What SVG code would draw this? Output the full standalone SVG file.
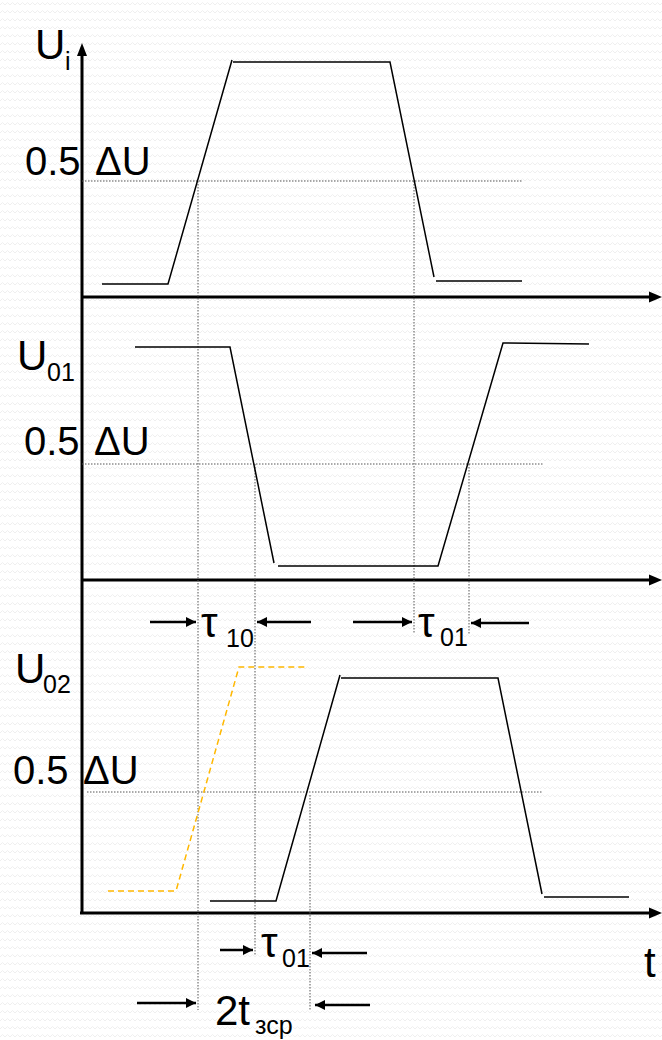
<svg xmlns="http://www.w3.org/2000/svg" width="662" height="1040" viewBox="0 0 662 1040">
<style>
.wave{fill:none;stroke:#000;stroke-width:1.5;stroke-linejoin:miter}
.dot{fill:none;stroke:#555;stroke-width:1;stroke-dasharray:1.5 1.5}
.axis{fill:none;stroke:#000;stroke-width:3}
.dim{fill:none;stroke:#000;stroke-width:2.5}
.orange{fill:none;stroke:#FFB800;stroke-width:1.5;stroke-dasharray:6 4}
text{font-family:"Liberation Sans",Arial,sans-serif;fill:#000}
.big{font-size:42px}
.mid{font-size:40px}
.sub{font-size:25px}
</style>
<defs>
<pattern id="bg" width="10" height="8" patternUnits="userSpaceOnUse">
<path d="M0 5 L2.5 2.5 L5 5 L7.5 2.5 L10 5" fill="none" stroke="#efefef" stroke-width="1"/>
</pattern>
<marker id="ah" markerUnits="userSpaceOnUse" markerWidth="12" markerHeight="12" refX="10" refY="5" orient="auto">
<path d="M0 0 L10 5 L0 10 Z" fill="#000"/>
</marker>
</defs>
<rect width="662" height="1040" fill="#fff"/>
<rect width="662" height="1040" fill="url(#bg)"/>

<g id="axes">
<line class="axis" x1="82" y1="913" x2="82" y2="54"/>
<polygon points="82,43 77,56 87,56" fill="#000"/>
<line class="axis" x1="81" y1="297" x2="650" y2="297"/>
<polygon points="662,297 649,291.5 649,302.5" fill="#000"/>
<line class="axis" x1="81" y1="580" x2="650" y2="580"/>
<polygon points="662,580 649,574.5 649,585.5" fill="#000"/>
<line class="axis" x1="80" y1="913" x2="650" y2="913"/>
<polygon points="662,913 649,907.5 649,918.5" fill="#000"/>
</g>

<g id="guides">
<line class="dot" x1="82" y1="181" x2="523" y2="181"/>
<line class="dot" x1="82" y1="464" x2="543" y2="464"/>
<line class="dot" x1="87" y1="792" x2="543" y2="792"/>
<line class="dot" x1="198" y1="181" x2="198" y2="1010"/>
<line class="dot" x1="414" y1="181" x2="414" y2="634"/>
<line class="dot" x1="255" y1="464" x2="255" y2="956"/>
<line class="dot" x1="469" y1="464" x2="469" y2="634"/>
<line class="dot" x1="310" y1="795" x2="310" y2="1010"/>
</g>

<g id="signal-ui">
<polyline class="wave" points="102,284 168,284 232,60"/>
<polyline class="wave" points="233,62 390,62 434,277"/>
<line class="wave" x1="436" y1="281" x2="522" y2="281"/>
</g>

<g id="signal-u01">
<polyline class="wave" points="135,347 230,347 274,563"/>
<polyline class="wave" points="278,566 438,566 503,343 589,344"/>
</g>

<g id="signal-u02">
<polyline class="wave" points="210,901 276,901 340,675"/>
<polyline class="wave" points="341,678 498,678 542,894"/>
<line class="wave" x1="544" y1="897" x2="629" y2="897"/>
<polyline class="orange" points="108,891 176,891 239,667 308,667"/>
</g>

<g id="connectors">
<line class="dim" x1="150" y1="622" x2="196" y2="622" marker-end="url(#ah)"/>
<line class="dim" x1="311" y1="622" x2="257" y2="622" marker-end="url(#ah)"/>
<line class="dim" x1="353" y1="622" x2="412" y2="622" marker-end="url(#ah)"/>
<line class="dim" x1="529" y1="623" x2="471" y2="623" marker-end="url(#ah)"/>
<line class="dim" x1="220" y1="950" x2="253" y2="950" marker-end="url(#ah)"/>
<line class="dim" x1="367" y1="953" x2="312" y2="953" marker-end="url(#ah)"/>
<line class="dim" x1="137" y1="1003" x2="196" y2="1003" marker-end="url(#ah)"/>
<line class="dim" x1="370" y1="1005" x2="315" y2="1005" marker-end="url(#ah)"/>
</g>

<g id="labels">
<text class="big" x="35" y="59">U</text><text class="sub" x="65" y="70">i</text>
<text class="mid" x="25" y="175">0.5</text><text class="mid" x="95" y="175">ΔU</text>
<text class="big" x="17" y="370">U</text><text class="sub" x="47" y="381">01</text>
<text class="mid" x="24" y="455">0.5</text><text class="mid" x="94" y="455">ΔU</text>
<text class="big" x="15" y="683">U</text><text class="sub" x="43" y="693">02</text>
<text class="mid" x="13" y="784">0.5</text><text class="mid" x="83" y="784">ΔU</text>
<text class="big" x="201" y="637">τ</text><text class="sub" x="226" y="647">10</text>
<text class="big" x="418" y="637">τ</text><text class="sub" x="440" y="646">01</text>
<text class="big" x="261" y="957">τ</text><text class="sub" x="282" y="967">01</text>
<text class="big" x="215" y="1025">2t</text><text class="sub" x="255" y="1034">зср</text>
<text class="big" x="644" y="977">t</text>
</g>
</svg>
